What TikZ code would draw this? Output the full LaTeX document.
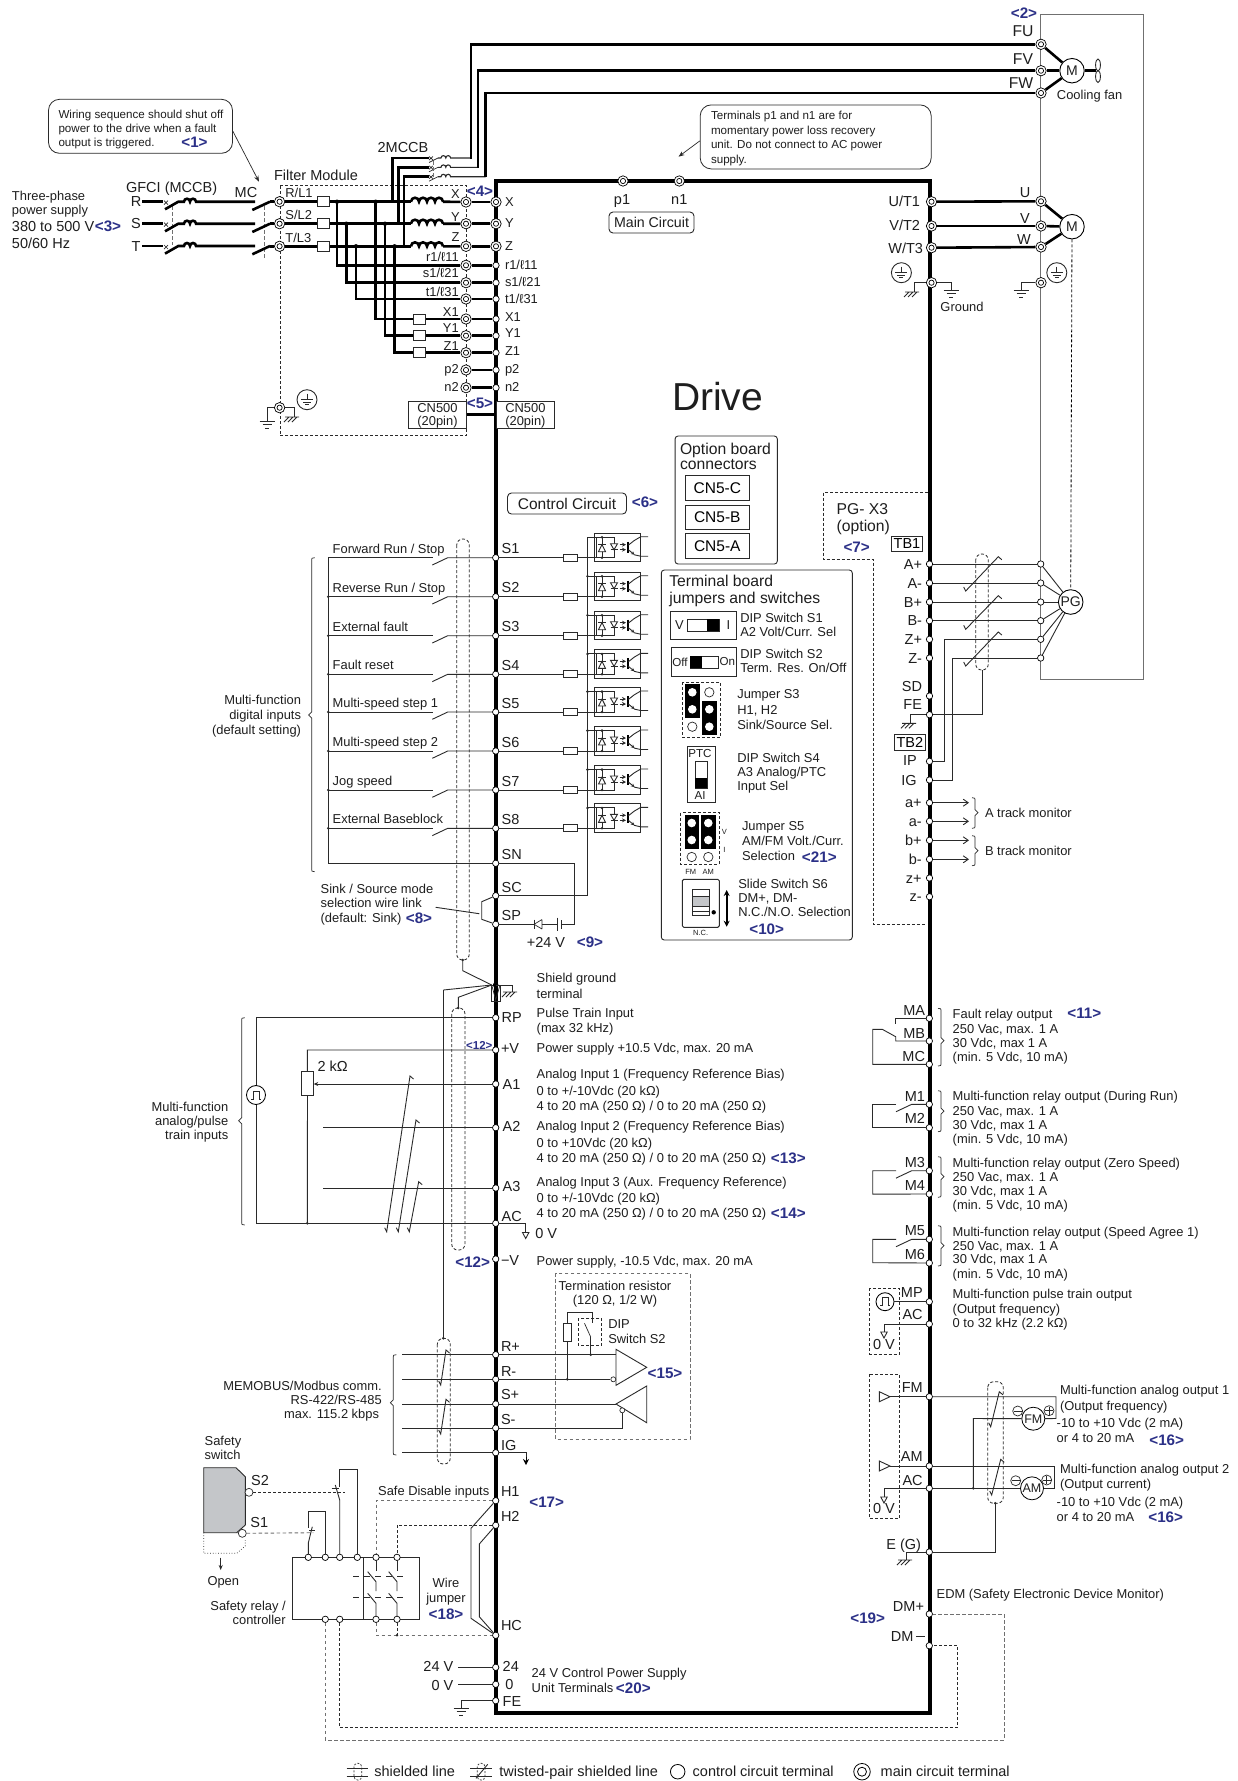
\documentclass[tikz,border=0pt]{standalone}
\usepackage{fontspec}
\setmainfont{Liberation Sans}
\usetikzlibrary{arrows.meta,calc}
\definecolor{ink}{HTML}{1E1E1E}
\definecolor{wire}{HTML}{2A2A2A}
\definecolor{frm}{HTML}{707070}
\definecolor{refblue}{HTML}{2B3087}
\definecolor{swgray}{HTML}{C4C6C9}
\newcounter{lc}
\newcommand{\putt}[5]{\stepcounter{lc}\node[#1,anchor=#2] (lbl\arabic{lc}) at (#3,#4) {#5};}
\newcommand{\sL}[3]{\putt{small}{base west}{#1}{#2}{#3}}
\newcommand{\sR}[3]{\putt{small}{base east}{#1}{#2}{#3}}
\newcommand{\sC}[3]{\putt{small}{base}{#1}{#2}{#3}}
\newcommand{\bL}[3]{\putt{lab}{base west}{#1}{#2}{#3}}
\newcommand{\bR}[3]{\putt{lab}{base east}{#1}{#2}{#3}}
\newcommand{\bC}[3]{\putt{lab}{base}{#1}{#2}{#3}}
\newcommand{\nL}[3]{\putt{notetxt}{base west}{#1}{#2}{#3}}
\newcommand{\hL}[3]{\putt{head}{base west}{#1}{#2}{#3}}
\newcommand{\hC}[3]{\putt{head}{base}{#1}{#2}{#3}}
\newcommand{\rf}[3]{\putt{blue}{base}{#1}{#2}{#3}}
\newcommand{\tinyt}[3]{\putt{inner sep=0,text=ink,font=\fontsize{7.5}{8}\selectfont,yshift=-2.7pt}{base}{#1}{#2}{#3}}
\newcommand{\jdot}[2]{\fill[wire] (#1,#2) circle (1.4);}
\newcommand{\earthg}[2]{\draw[ln] (#1-7.5,#2)--(#1+7.5,#2) (#1-4.5,#2+3.5)--(#1+4.5,#2+3.5) (#1-2,#2+7)--(#1+2,#2+7);}
\newcommand{\chassis}[2]{\draw[ln] (#1-5,#2)--(#1+9,#2) (#1-1,#2)--(#1-6,#2+5) (#1+3,#2)--(#1-2,#2+5) (#1+7,#2)--(#1+2,#2+5);}
\newcommand{\gcirc}[2]{\draw[ln] (#1,#2) circle (10); \draw[ln] (#1,#2-6)--(#1,#2) (#1-6,#2)--(#1+6,#2) (#1-4,#2+2.5)--(#1+4,#2+2.5) (#1-2,#2+5)--(#1+2,#2+5);}
\newcommand{\twist}[4]{\draw[ln] (#1-2,#2-4)--(#1,#2)--(#3,#4)--(#3+3.5,#4+3);}
\newcommand{\capsule}[4]{\draw[dsh,rounded corners=6pt] (#1,#2) rectangle (#3,#4);}
\newcommand{\lbr}[4]{\draw[lnt] (#1+3,#2) .. controls (#1,#2) and (#1,#2) .. (#1,#2+4) -- (#1,#4-3) -- (#1-3,#4) -- (#1,#4+3) -- (#1,#3-4) .. controls (#1,#3) and (#1,#3) .. (#1+3,#3);}
\newcommand{\rbr}[4]{\draw[lnt] (#1-3,#2) .. controls (#1,#2) and (#1,#2) .. (#1,#2+4) -- (#1,#4-3) -- (#1+3,#4) -- (#1,#4+3) -- (#1,#3-4) .. controls (#1,#3) and (#1,#3) .. (#1-3,#3);}
\newcommand{\opencone}[2]{\draw[ln,fill=white] (#1-3.2,#2)--(#1+3.2,#2)--(#1,#2+6)--cycle;}
\newcommand{\opto}[1]{\begin{scope}[shift={(0,#1)}]
 \draw[ln] (594,-24.4) rectangle (640.7,4);
 \draw[ln] (596.7,-20.4) rectangle (614,0);
 \draw[ln] (602,-20.4)--(602,0);
 \draw[ln,fill=white] (598.5,-6)--(605.5,-6)--(602,-13)--cycle;
 \draw[ln] (598,-13)--(606,-13);
 \jdot{602}{-20.4}\jdot{602}{0}
 \draw[ln,fill=white] (610.5,-14)--(617.5,-14)--(614,-8)--cycle;
 \draw[ln] (610.5,-8)--(617.5,-8);
 \draw[ln,-{Stealth[length=4pt,width=4pt]}] (619.5,-13)--(626,-13);
 \draw[ln,-{Stealth[length=4pt,width=4pt]}] (619.5,-8)--(626,-8);
 \draw[line width=1.7pt,black] (628.3,-16)--(628.3,-5);
 \draw[ln] (628.3,-12.5)--(634,-17)--(640.7,-21)--(648,-21);
 \draw[ln,-{Stealth[length=3.5pt,width=3.5pt]}] (628.3,-8)--(634.5,-3);
 \draw[ln] (634,-3)--(640.7,-1.5)--(648,-1.5);
 \end{scope}}
\newcommand{\pulse}[2]{\draw[ln] (#1-5,#2+4)--(#1-3,#2+4)--(#1-3,#2-4)--(#1+3,#2-4)--(#1+3,#2+4)--(#1+5,#2+4);}
\newcommand{\mccb}[1]{\draw[pw] (142,#1)--(163.3,#1);
 \draw[lnt] (164,#1-1)--(168,#1+3) (164,#1+3)--(168,#1-1);
 \draw[pw] (165,#1+7.6)--(178.3,#1)--(184,#1) arc[start angle=180,end angle=360,radius=3] arc[start angle=180,end angle=360,radius=3] --(255,#1);
 \draw[pw] (252.3,#1+8.3)--(270,#1);}
\newcommand{\smallcb}[2]{\draw[lnt] (429,#1+4.5)--(438,#1) (429,#1-1.5)--(433,#1+2) (429,#1+2)--(433,#1-1.5);
 \draw[line width=1.1pt,wire] (438,#1)--(441,#1) arc[start angle=180,end angle=360,radius=2.4] arc[start angle=180,end angle=360,radius=2.4]--(#2,#1);}
\newcommand{\coilrow}[1]{\draw[pw] (411,#1) arc[start angle=180,end angle=360,radius=4] arc[start angle=180,end angle=360,radius=4] arc[start angle=180,end angle=360,radius=4] arc[start angle=180,end angle=360,radius=4];}
\tikzset{
 x=1pt,y=-1pt,
 small/.style={inner sep=0,outer sep=0,text=ink,font=\fontsize{12.9}{14}\selectfont,yshift=-4.6pt},
 lab/.style={inner sep=0,outer sep=0,text=ink,font=\fontsize{14.5}{15}\selectfont,yshift=-5.2pt},
 head/.style={inner sep=0,outer sep=0,text=ink,font=\fontsize{15.7}{16}\selectfont,yshift=-5.6pt},
 notetxt/.style={inner sep=0,outer sep=0,text=ink,font=\fontsize{11.6}{13}\selectfont,yshift=-4.2pt},
 blue/.style={inner sep=0,outer sep=0,text=refblue,font=\fontsize{15.2}{16}\selectfont\bfseries,yshift=-5.4pt},
 ln/.style={line width=.9pt,draw=wire},
 lnt/.style={line width=.7pt,draw=wire},
 pw/.style={line width=2.6pt,draw=black},
 bus/.style={line width=3.6pt,draw=black,line join=miter},
 frame/.style={line width=1pt,draw=frm},
 dsh/.style={line width=.8pt,draw=wire,dash pattern=on 3pt off 2pt},
 gdsh/.style={line width=.9pt,draw=frm,dash pattern=on 3.5pt off 2.5pt},
 ct/.style={circle,draw=black,fill=white,inner sep=0,minimum size=6.4pt,line width=.7pt},
 mtm/.style={circle,draw=black,fill=white,inner sep=0,minimum size=10.4pt,line width=.7pt,
   path picture={\draw[line width=.7pt] (path picture bounding box.center) circle (2.6pt);}},
 box/.style={draw=wire,line width=.9pt,inner sep=0,fill=white},
 rbox/.style={draw=wire,line width=.9pt,inner sep=0,rounded corners=4pt,fill=white,text=ink},
 note/.style={draw=wire,line width=.8pt,inner sep=0,rounded corners=11pt},
 fus/.style={draw=wire,line width=.7pt,fill=white,inner sep=0,minimum width=12pt,minimum height=10pt},
 mot/.style={circle,draw=black,line width=.9pt,fill=white,inner sep=0,minimum size=24.5pt,text=ink,font=\fontsize{14}{15}\selectfont},
}
\begin{document}
\begin{tikzpicture}
\useasboundingbox (0,0) rectangle (1238,1781);
\fill[white] (0,0) rectangle (1238,1781);
%% frames and buses
\draw[frame] (1040.7,14.7) rectangle (1143.5,679);
\draw[bus] (496,181) -- (930,181) -- (930,1712.7) -- (496,1712.7) -- cycle;
%% ------- top left
\node[note,minimum width=184pt,minimum height=54pt] (note1) at (140.5,126.3) {};
\nL{58.5}{114}{Wiring sequence should shut off}
\nL{58.5}{128.3}{power to the drive when a fault}
\nL{58.5}{142.3}{output is triggered.}
\rf{194.5}{141.7}{<1>}
\coordinate (mcpt) at (259,181.7);
\draw[lnt,-{Stealth[length=6pt,width=4.5pt]}] ([yshift=-5pt]note1.east) -- (mcpt);
\sL{12}{195.7}{Three-phase}
\sL{12}{210}{power supply}
\bL{12}{226}{380 to 500 V}
\bL{12}{243.3}{50/60 Hz}
\rf{108}{226.5}{<3>}
\bC{171.6}{187}{GFCI (MCCB)}
\bC{246}{192}{MC}
\bC{316}{175}{Filter Module}
\bC{403}{147}{2MCCB}
\bC{136}{201}{R}\bC{136}{223}{S}\bC{136}{246}{T}
\draw[dsh] (280,185.7)--(466.6,185.7)--(466.6,435.7)--(280,435.7)--cycle;
\draw[gdsh] (172.3,206)--(172.3,245);
\draw[gdsh] (264,206)--(264,258);
\mccb{201.7}\mccb{223.7}\mccb{246}
%% module terminals
\node[mtm] (fR) at (279.6,201.7) {};
\node[mtm] (fS) at (279.6,223.7) {};
\node[mtm] (fT) at (279.6,246.3) {};
\node[mtm] (mX) at (466,202) {};
\node[mtm] (mY) at (466,223.7) {};
\node[mtm] (mZ) at (466,246.3) {};
\node[mtm] (mrr) at (466,265.3) {};
\node[mtm] (mss) at (466,282.7) {};
\node[mtm] (mtt) at (466,299) {};
\node[mtm] (mXa) at (466,319) {};
\node[mtm] (mYa) at (466,335.7) {};
\node[mtm] (mZa) at (466,352.7) {};
\node[mtm] (mp) at (466,370) {};
\node[mtm] (mn) at (466,387.7) {};
\node[mtm] (dX) at (496,202) {};
\node[mtm] (dY) at (496,223.7) {};
\node[mtm] (dZ) at (496,246.3) {};
\node[ct] (drr) at (496,265.3) {};
\node[ct] (dss) at (496,282.7) {};
\node[ct] (dtt) at (496,299) {};
\node[ct] (dXa) at (496,319) {};
\node[ct] (dYa) at (496,335.7) {};
\node[ct] (dZa) at (496,352.7) {};
\node[ct] (dp) at (496,370) {};
\node[ct] (dn) at (496,387.7) {};
\draw[pw] (270,201.7)--(fR) (270,223.7)--(fS) (270,246.3)--(fT);
\draw[pw] (fR)--(411,201.7) (fS)--(411,223.7) (fT)--(411,246.3);
\coilrow{201.7}\coilrow{223.7}\coilrow{246.3}
\draw[pw] (443,201.7)--(mX) (443,223.7)--(mY) (443,246.3)--(mZ);
\draw[pw] (mX)--(dX); \draw[pw] (mY)--(dY); \draw[pw] (mZ)--(dZ);
\draw[pw] (337,201.7)--(337,265.3)--(mrr); \draw[pw] (mrr)--(drr);
\draw[pw] (346.4,223.7)--(346.4,282.7)--(mss); \draw[pw] (mss)--(dss);
\draw[pw] (356,246.3)--(356,299)--(mtt); \draw[pw] (mtt)--(dtt);
\draw[pw] (375.6,201.7)--(375.6,319)--(mXa); \draw[pw] (mXa)--(dXa);
\draw[pw] (385,223.7)--(385,335.7)--(mYa); \draw[pw] (mYa)--(dYa);
\draw[pw] (394.6,246.3)--(394.6,352.7)--(mZa); \draw[pw] (mZa)--(dZa);
\draw[pw] (mp)--(dp); \draw[pw] (mn)--(dn);
\foreach \a/\b in {337/201.7,346.4/223.7,356/246.3,375.6/201.7,385/223.7,394.6/246.3}{\fill (\a,\b) circle (2.2);}
\foreach \y [count=\i] in {201.7,223.7,246.3}{\node[fus] (fuse\i) at (323.5,\y) {};}
\foreach \y [count=\i] in {319,335.7,352.7}{\node[fus] (res\i) at (419,\y) {};}
%% labels filter
\sL{285.4}{193.3}{R/L1}\sL{285.4}{215.3}{S/L2}\sL{285.4}{238.3}{T/L3}
\sC{455.5}{194}{X}\sC{455.5}{216.7}{Y}\sC{455.5}{236.7}{Z}
\sR{458.7}{256.7}{r1/ℓ11}\sR{458.7}{273}{s1/ℓ21}\sR{458.7}{291.7}{t1/ℓ31}
\sR{458.7}{311.7}{X1}\sR{458.7}{328.3}{Y1}\sR{458.7}{345.7}{Z1}
\sR{458.7}{369}{p2}\sR{458.7}{386.7}{n2}
\sL{505}{201.7}{X}\sL{505}{223}{Y}\sL{505}{245.7}{Z}
\sL{505}{265}{r1/ℓ11}\sL{505}{281.7}{s1/ℓ21}\sL{505}{299.3}{t1/ℓ31}
\sL{505}{316.7}{X1}\sL{505}{333}{Y1}\sL{505}{350.7}{Z1}
\sL{505}{369}{p2}\sL{505}{386.7}{n2}
\rf{480}{191}{<4>}\rf{480}{403}{<5>}
\node[box,minimum width=58pt,minimum height=26.7pt] (cnL) at (437.5,414.6) {};
\node[box,minimum width=58.8pt,minimum height=26.7pt] (cnR) at (525.4,414.6) {};
\draw[pw] (cnL.east)--(cnR.west);
\sC{437.5}{407.5}{CN500}\sC{437.5}{421}{(20pin)}
\sC{525.4}{407.5}{CN500}\sC{525.4}{421}{(20pin)}
%% filter ground
\node[mtm] (fG) at (279.6,407.7) {};
\draw[ln] (fG)--(267,407.7)--(267,421);
\earthg{267}{421}
\draw[ln] (fG)--(294.6,407.7)--(294.6,417);
\chassis{290}{417}
\gcirc{307}{399.7}
%% 2MCCB and top wires
\node[mtm] (tFU) at (1041,44.3) {};
\node[mtm] (tFV) at (1041,70.7) {};
\node[mtm] (tFW) at (1041,93) {};
\draw[pw] (392.6,201.7)--(392.6,158)--(429,158);
\draw[pw] (398.6,223.7)--(398.6,167.3)--(429,167.3);
\draw[pw] (404,246.3)--(404,176.7)--(429,176.7);
\smallcb{158}{471}\smallcb{167.3}{478}\smallcb{176.7}{485.5}
\draw[pw] (tFU)--(471,44.3)--(471,158.5);
\draw[pw] (tFV)--(478,70.7)--(478,167.8);
\draw[pw] (tFW)--(485.5,93)--(485.5,177.2);
\draw[gdsh] (433,161)--(433,178);
%% fan
\node[mot] (mfan) at (1072,70.7) {M};
\draw[pw] (tFU)--(mfan); \draw[pw] (tFV)--(mfan); \draw[pw] (tFW)--(mfan);
\draw[pw] (mfan)--(1096,70.7);
\draw[ln] (1098,65) ellipse (2.4 and 6); \draw[ln] (1098,76.5) ellipse (2.4 and 6);
\hC{1023}{31}{FU}\hC{1023}{59}{FV}\hC{1021}{83.3}{FW}
\rf{1024}{12.7}{<2>}
\sC{1089.6}{94.7}{Cooling fan}
%% note 2
\node[note,minimum width=231pt,minimum height=64pt] (note2) at (815.7,136.9) {};
\nL{711}{115}{Terminals p1 and n1 are for}
\nL{711}{130}{momentary power loss recovery}
\nL{711}{144}{unit. Do not connect to AC power}
\nL{711}{159}{supply.}
\coordinate (p1pt) at (678.5,156.7);
\draw[lnt,-{Stealth[length=6pt,width=4.5pt]}] ([yshift=-4pt]note2.west) -- (p1pt);
\node[mtm] (p1) at (623,181) {};
\node[mtm] (n1) at (679.3,181) {};
\bC{622}{199.5}{p1}\bC{679.3}{199.5}{n1}
\node[rbox,minimum width=85pt,minimum height=21pt,font=\fontsize{14.2}{15}\selectfont] (mainc) at (651.5,222.5) {Main Circuit};
%% motor
\node[mtm] (tUT) at (931.5,201.7) {};
\node[mtm] (tVT) at (931.5,226) {};
\node[mtm] (tWT) at (931.5,247.7) {};
\node[mtm] (tU) at (1041,201.3) {};
\node[mtm] (tV) at (1041,226) {};
\node[mtm] (tW) at (1041,247) {};
\node[mot] (mmain) at (1072,226.7) {M};
\draw[pw] (tUT)--(tU); \draw[pw] (tVT)--(tV); \draw[pw] (tWT)--(tW);
\draw[pw] (tU)--(mmain); \draw[pw] (tV)--(mmain); \draw[pw] (tW)--(mmain);
\bR{920}{201.7}{U/T1}\bR{920}{225}{V/T2}\bR{923}{248}{W/T3}
\bC{1025}{192.7}{U}\bC{1025}{218}{V}\bC{1024}{239.3}{W}
\node[mtm] (gD) at (931.5,282.7) {};
\draw[ln] (gD)--(914.5,282.7)--(914.5,292);
\chassis{910}{292}
\draw[ln] (gD)--(951,282.7)--(951,290);
\earthg{951}{290}
\gcirc{901.4}{272.7}
\sC{962}{306.7}{Ground}
\node[mtm] (gM) at (1041,282.7) {};
\draw[ln] (gM)--(1021,282.7)--(1021,290);
\earthg{1021}{290}
\gcirc{1056.8}{272.7}
%% Drive
\putt{inner sep=0,text=ink,font=\fontsize{39}{42}\selectfont}{center}{717.5}{397}{Drive}
%% option board
\node[rbox,fill=none,minimum width=102.3pt,minimum height=128pt,rounded corners=3pt] (optb) at (726.2,500) {};
\hL{680}{449.3}{Option board}\hL{680}{464.3}{connectors}
\node[box,minimum width=63.3pt,minimum height=24.3pt,font=\fontsize{15.5}{16}\selectfont] (cnc) at (717.3,487.8) {CN5-C};
\node[box,minimum width=63.3pt,minimum height=24.3pt,font=\fontsize{15.5}{16}\selectfont] (cnb) at (717.3,517.2) {CN5-B};
\node[box,minimum width=63.3pt,minimum height=24.3pt,font=\fontsize{15.5}{16}\selectfont] (cna) at (717.3,546) {CN5-A};
\node[rbox,minimum width=119pt,minimum height=21pt,font=\fontsize{15.5}{16}\selectfont] (ctrl) at (567,503.5) {Control Circuit};
\rf{645}{502}{<6>}
%% terminal board
\node[rbox,fill=none,minimum width=191pt,minimum height=370pt,rounded corners=3pt] (tboard) at (756.8,755) {};
\hL{669.3}{581.3}{Terminal board}\hL{669.3}{597.7}{jumpers and switches}
% S1
\node[box,minimum width=65.6pt,minimum height=28pt] (swa) at (703.5,625.3) {};
\draw[lnt] (687.7,619.3) rectangle (719.3,631); \fill[black] (707.3,619.3) rectangle (719.3,631);
\sC{679.3}{624.7}{V}\sC{728.3}{624.7}{I}
\sL{740.3}{618.3}{DIP Switch S1}\sL{740.3}{632.3}{A2 Volt/Curr. Sel}
% S2
\node[box,minimum width=65.4pt,minimum height=28.3pt] (swb) at (704,661.8) {};
\draw[lnt] (690,656.3) rectangle (718.7,668.3); \fill[black] (690,656.3) rectangle (701.7,668.3);
\putt{notetxt}{base}{680}{662}{Off}\putt{notetxt}{base}{727.3}{661.3}{On}
\sL{740.3}{654.3}{DIP Switch S2}\sL{740.3}{668.3}{Term. Res. On/Off}
% S3
\draw[dsh] (682.3,682.3) rectangle (720.7,737.3);
\fill[black] (685,684.3) rectangle (700.3,717.7);
\fill[black] (702.3,701) rectangle (717.3,735);
\foreach \a/\b in {692.3/692.3,692.3/709.3,709.3/709.3,709.3/726.7}{\fill[white] (\a,\b) circle (4.3);}
\foreach \a/\b in {709.3/692.3,692.3/726.7}{\draw[lnt] (\a,\b) circle (4.7);}
\sL{737.3}{694.3}{Jumper S3}\sL{737.3}{710}{H1, H2}\sL{737.3}{725.3}{Sink/Source Sel.}
% S4
\node[box,minimum width=28.4pt,minimum height=56pt] (swd) at (701.5,774.7) {};
\draw[lnt] (695.3,761) rectangle (707.3,788); \fill[black] (695.3,778) rectangle (707.3,788);
\putt{notetxt}{base}{700}{753.3}{PTC}\putt{notetxt}{base}{700}{795.7}{AI}
\sL{737.3}{757.7}{DIP Switch S4}\sL{737.3}{771.7}{A3 Analog/PTC}\sL{737.3}{785.7}{Input Sel}
% S5
\draw[dsh] (680.7,812.7) rectangle (719,864.3);
\fill[black] (684.7,815) rectangle (699,848.7);
\fill[black] (701.3,815) rectangle (715.7,848.7);
\foreach \a/\b in {691.7/823,691.7/840,708.3/823,708.3/840}{\fill[white] (\a,\b) circle (4.3);}
\foreach \a/\b in {691.7/857,708.3/857}{\draw[lnt] (\a,\b) circle (4.7);}
\tinyt{724.3}{831.3}{V}\tinyt{724.3}{850}{I}\tinyt{690.7}{871.3}{FM}\tinyt{708.3}{871.3}{AM}
\sL{742}{825.7}{Jumper S5}\sL{742}{840.7}{AM/FM Volt./Curr.}\sL{742}{855.7}{Selection}
\rf{819.3}{856.7}{<21>}
% S6
\node[box,minimum width=37pt,minimum height=48pt,rounded corners=1.5pt] (swf) at (700.8,903.3) {};
\draw[ln] (692.7,889.3) rectangle (709.3,915.7);
\fill[swgray] (693.2,896) rectangle (708.8,906);
\draw[lnt] (692.7,896)--(709.3,896) (692.7,906)--(709.3,906) (692.7,911)--(709.3,911);
\fill[black] (713.7,912.3) circle (2.2);
\draw[line width=1.6pt,{Stealth[length=6pt,width=6pt]}-{Stealth[length=6pt,width=6pt]}] (726.7,890)--(726.7,926.7);
\tinyt{700.7}{932.3}{N.C.}
\sL{738.3}{884.3}{Slide Switch S6}\sL{738.3}{898.3}{DM+, DM-}\sL{738.3}{912.3}{N.C./N.O. Selection}
\rf{766.7}{929}{<10>}
%% ------- digital inputs
\capsule{456.7}{539}{469.3}{960}
\draw[ln] (328.3,557.7)--(328.3,863.3);
\lbr{311.7}{557.7}{871.7}{715}
\sR{301}{700.3}{Multi-function}\sR{301}{715}{digital inputs}\sR{301}{729.7}{(default setting)}
\node[ct] (tSC) at (495.7,895.7) {};
\node[ct] (tSN) at (495.7,863.3) {};
\node[ct] (tSP) at (495.7,924.3) {};
\foreach \n/\y/\t in {1/557.7/{Forward Run / Stop},2/596.7/{Reverse Run / Stop},3/635.7/{External fault},4/674.3/{Fault reset},5/712/{Multi-speed step 1},6/751/{Multi-speed step 2},7/790/{Jog speed},8/828.3/{External Baseblock}}{
  \node[ct] (tS\n) at (495.7,\y) {};
  \draw[ln] (328.3,\y)--(432.7,\y);
  \draw[ln] (432.3,\y+7.3)--(447.7,\y)--(tS\n);
  \draw[ln] (tS\n)--(563.7,\y);
  \draw[ln] (577.7,\y)--(602,\y);
  \node[draw=wire,line width=.7pt,fill=white,inner sep=0,minimum width=14pt,minimum height=7pt] (rS\n) at (570.7,\y) {};
  \opto{\y}
  \draw[ln] (587.5,\y-20.4)--(596.7,\y-20.4);
  \bL{501.7}{\y-9}{S\n}
  \sL{332.7}{\y-9.3}{\t}
}
\foreach \y in {596.7,635.7,674.3,712,751,790,828.3}{\jdot{328.3}{\y}}
\foreach \y in {576.3,615.3,653.9,691.6,730.6,769.6,807.9}{\jdot{587.5}{\y}}
\draw[ln] (587.5,537.3)--(587.5,895.7)--(tSC);
\draw[ln] (328.3,863.3)--(tSN);
\draw[ln] (tSN)--(574,863.3)--(574,924.3)--(561,924.3);
\draw[ln] (557,924.3)--(542,924.3);
\draw[lnt] (557,917.5)--(557,931) (561,920)--(561,928.5);
\draw[lnt] (542,919.5)--(542,929) (542,919.5)--(534,924.3)--(542,929);
\draw[lnt] (534,919.5)--(534,929);
\draw[ln] (534,924.3)--(tSP);
\bL{501.7}{854.5}{SN}\bL{501.7}{887.5}{SC}\bL{501.7}{915.5}{SP}
\draw[ln] (tSC)--(481.7,901.7)--(481.7,919.3)--(tSP);
\draw[ln] (435.7,907.3)--(479.3,913.7);
\sL{320.7}{889.3}{Sink / Source mode}\sL{320.7}{903.3}{selection wire link}\sL{320.7}{917.7}{(default: Sink)}
\rf{419}{918}{<8>}
\bC{546}{942.7}{+24 V}\rf{590}{942.3}{<9>}
%% ------- shield ground
\draw[ln] (462.7,960)--(462.7,970.7)--(491.7,985);
\jdot{462.7}{960}
\draw[lnt] (491.7,985) rectangle (500,1001.7);
\draw[lnt] (492,986)--(495.7,1000)--(499.7,986);
\fill[black] (495.7,985) circle (2.8);
\draw[ln] (495.7,985)--(512.7,985)--(512.7,991.7);
\chassis{508}{992}
\draw[ln] (443.3,990)--(491.7,985);
\draw[ln] (458.3,1008)--(458.3,997.3)--(491.7,985);
\draw[ln] (443.3,990)--(443.3,1338.3);
\jdot{443.3}{1338.3}\jdot{458.3}{1008}
\capsule{451.7}{1008}{465}{1250}
\sL{536.7}{978.3}{Shield ground}\sL{536.7}{994.3}{terminal}
\sL{536.7}{1013.3}{Pulse Train Input}\sL{536.7}{1028.3}{(max 32 kHz)}
\sL{536.7}{1047.7}{Power supply +10.5 Vdc, max. 20 mA}
\sL{536.7}{1074.3}{Analog Input 1 (Frequency Reference Bias)}
\sL{536.7}{1090.7}{0 to +/-10Vdc (20 kΩ)}
\sL{536.7}{1106}{4 to 20 mA (250 Ω) / 0 to 20 mA (250 Ω)}
\sL{536.7}{1126}{Analog Input 2 (Frequency Reference Bias)}
\sL{536.7}{1142.7}{0 to +10Vdc (20 kΩ)}
\sL{536.7}{1157.7}{4 to 20 mA (250 Ω) / 0 to 20 mA (250 Ω)}
\rf{788.3}{1158.3}{<13>}
\sL{536.7}{1182.3}{Analog Input 3 (Aux. Frequency Reference)}
\sL{536.7}{1197.7}{0 to +/-10Vdc (20 kΩ)}
\sL{536.7}{1213.3}{4 to 20 mA (250 Ω) / 0 to 20 mA (250 Ω)}
\rf{788.3}{1213.3}{<14>}
\bL{535.3}{1233.3}{0 V}
\sL{536.7}{1260.7}{Power supply, -10.5 Vdc, max. 20 mA}
%% ------- analog inputs
\node[ct] (tRP) at (495.7,1017.7) {};
\node[ct] (tPV) at (495.7,1050) {};
\node[ct] (tA1) at (495.7,1084) {};
\node[ct] (tA2) at (495.7,1127.7) {};
\node[ct] (tA3) at (495.7,1188) {};
\node[ct] (tAC) at (495.7,1223.3) {};
\node[ct] (tMV) at (495.7,1259) {};
\node[circle,draw=black,line width=.85pt,fill=white,minimum size=19pt,inner sep=0] (pls) at (256,1095) {};
\draw[ln] (tRP)--(256,1017.7)--(pls);
\draw[ln] (pls)--(256,1223.3)--(tAC);
\pulse{256}{1095}
\lbr{241.7}{1017.7}{1225}{1120.7}
\sR{228.3}{1106.7}{Multi-function}\sR{228.3}{1120.7}{analog/pulse}\sR{228.3}{1134.7}{train inputs}
\node[draw=wire,line width=.8pt,fill=white,inner sep=0,minimum width=11.6pt,minimum height=23.3pt] (pot) at (307.5,1083.3) {};
\draw[ln] (tPV)--(307.3,1050)--(pot);
\draw[ln] (pot)--(307.3,1223.3);
\jdot{307.3}{1223.3}
\draw[ln,-{Stealth[length=4.5pt,width=4pt]}] (tA1)--(pot.east |- tA1);
\coordinate (a2end) at (323.3,1127.7);\coordinate (a3end) at (323.3,1188);
\draw[ln] (tA2)--(a2end); \draw[ln] (tA3)--(a3end);
\bC{332.7}{1066}{2 kΩ}
\twist{386.7}{1231.7}{410}{1076}
\twist{398.3}{1231.7}{416}{1120}
\twist{409.3}{1231.7}{418.7}{1181.7}
\putt{blue,font=\fontsize{11.5}{12}\selectfont\bfseries,yshift=-4pt}{base}{479.3}{1040}{<12>}
\rf{472.7}{1261.7}{<12>}
\bL{501.7}{1017.7}{RP}\bL{501}{1048}{+V}\bL{502.7}{1084}{A1}\bL{502.7}{1126.7}{A2}\bL{502.7}{1186.7}{A3}\bL{501.7}{1216}{AC}\bL{501}{1260}{−V}
\draw[ln] (tAC)--(525.7,1223.3)--(525.7,1233);
\opencone{525.7}{1232.5}
%% ------- comms
\foreach \n/\y in {Rp/1354.7,Rm/1379.3,Sp/1404,Sm/1428,IG/1452.7}{\node[ct] (t\n) at (495.7,\y) {};}
\capsule{437.3}{1338.3}{450.3}{1464}
\foreach \n/\y in {Rp/1354.7,Rm/1379.3,Sp/1404,Sm/1428,IG/1452.7}{\draw[ln] (t\n)--(402,\y);}
\twist{440.7}{1385}{446}{1350}
\twist{440.7}{1434}{446}{1399.3}
\lbr{393.3}{1354.7}{1455}{1402.7}
\sR{381.7}{1385.7}{MEMOBUS/Modbus comm.}\sR{381.7}{1399.7}{RS-422/RS-485}\sR{379}{1414.3}{max. 115.2 kbps}
\bL{501}{1346.7}{R+}\bL{501}{1371.7}{R-}\bL{501}{1394.3}{S+}\bL{501}{1419.3}{S-}\bL{501}{1445}{IG}
\draw[gdsh] (555.7,1273.3) rectangle (690,1439.3);
\sC{615}{1285.7}{Termination resistor}\sC{615}{1300}{(120 Ω, 1/2 W)}
\sL{608.3}{1324}{DIP}\sL{608.3}{1338.7}{Switch S2}
\rf{665}{1373.3}{<15>}
\node[draw=wire,line width=.8pt,fill=white,inner sep=0,minimum width=8.7pt,minimum height=18.4pt] (rtrm) at (567.3,1332.5) {};
\draw[ln] (rtrm)--(567.3,1312.3)--(592.3,1312.3)--(592.3,1323.3);
\draw[lnt] (584.5,1323.3)--(590.7,1337);
\draw[ln] (590.7,1337)--(590.7,1355);
\draw[dsh] (578,1318.3) rectangle (601.7,1345.3);
\draw[ln] (rtrm)--(567.3,1379.3);
\jdot{567.3}{1379.3}\jdot{590.7}{1354.7}
\draw[ln] (tRp)--(616,1354.7);
\draw[ln] (616,1349.3)--(616,1385.3)--(646.7,1367.3)--cycle;
\node[circle,draw=wire,line width=.7pt,fill=white,minimum size=5pt,inner sep=0] (ccR) at (613.3,1379.3) {};
\draw[ln] (tRm)--(ccR);
\draw[ln] (tSp)--(616,1404);
\draw[ln] (616,1404)--(646.7,1386)--(646.7,1422.7)--cycle;
\node[circle,draw=wire,line width=.7pt,fill=white,minimum size=5pt,inner sep=0] (ccS) at (622.3,1410.3) {};
\draw[ln] (tSm)--(622.3,1428)--(ccS);
\draw[ln] (tIG)--(526,1452.7)--(526,1458);
\draw[-{Stealth[length=6pt,width=6pt]},black,line width=1pt] (526,1457)--(526,1465);
%% ------- safety
\sL{204.7}{1440.7}{Safety}\sL{204.7}{1454.7}{switch}
\draw[ln,fill=swgray] (203.7,1467.7)--(236,1467.7)--(245.3,1476.7)--(245.3,1525)--(236.7,1532.7)--(203.7,1532.7)--cycle;
\draw[lnt,dotted] (203.7,1532.7)--(203.7,1553.3)--(236.7,1553.3)--(245.3,1546)--(245.3,1538.3);
\node[circle,draw=wire,line width=.7pt,fill=white,minimum size=8pt,inner sep=0] (swS2) at (249,1492.3) {};
\node[circle,draw=wire,line width=.7pt,fill=white,minimum size=8pt,inner sep=0] (swS1) at (242.3,1533.3) {};
\bC{260}{1480.7}{S2}\bC{259.3}{1522.7}{S1}
\draw[ln,-{Stealth[length=5pt,width=4pt]}] (220.7,1557.5)--(220.7,1570);
\sC{223.3}{1580.7}{Open}
\sR{285.7}{1605.7}{Safety relay /}\sR{285.7}{1619.7}{controller}
\draw[ln] (292.3,1557.3) rectangle (419.3,1619.3);
\draw[ln] (363,1557.3)--(363,1619.3);
\foreach \n/\x in {a/308.3,b/325.3,c/339.7,d/357.3,e/376,f/397}{\node[ct] (rt\n) at (\x,1557.3) {};}
\foreach \n/\x in {b/325.3,c/339.7,e/376,f/397}{\node[ct] (rb\n) at (\x,1619.3) {};}
\draw[dsh] (swS2)--(345,1492.3);
\draw[ln] (rtc)--(339.7,1500)--(335.3,1485);
\draw[ln] (339.7,1487)--(339.7,1469.3)--(357.3,1469.3)--(rtd);
\draw[lnt] (331.5,1488)--(339,1488);
\draw[gdsh] (swS1)--(313.3,1532.7);
\draw[ln] (rta)--(308.3,1543)--(312.3,1526.7);
\draw[ln] (308.3,1527.7)--(308.3,1511.7)--(325.3,1511.7)--(rtb);
\draw[lnt] (309,1530)--(315,1530);
\foreach \x in {376,397}{
 \draw[ln] (\x,1571)--(\x,1560.5);
 \draw[ln] (\x-8.3,1571.7)--(\x,1581.7)--(\x,1591);
 \draw[ln] (\x-8.3,1593.3)--(\x,1603.3)--(\x,1616);
}
\draw[lnt,dash pattern=on 6pt off 5pt] (353.3,1576)--(405,1576);
\draw[lnt,dash pattern=on 6pt off 5pt] (353.3,1597.3)--(405,1597.3);
\node[ct] (tH1) at (495.7,1500.7) {};
\node[ct] (tH2) at (495.7,1525.3) {};
\node[ct] (tHC) at (495.7,1635.3) {};
\draw[gdsh] (tH1)--(376,1500.7)--(rte);
\draw[dsh] (tH2)--(397,1525.3)--(rtf);
\draw[gdsh] (rbe)--(376,1635.3)--(tHC);
\draw[dsh] (rbf)--(397,1635.3);
\jdot{397}{1635.3}
\draw[ln] (tH1)--(471,1528.3)--(471,1618.3)--(tHC);
\draw[ln] (tH2)--(479.3,1544)--(479.3,1616.7)--(tHC);
\sR{489.3}{1490.7}{Safe Disable inputs}
\bL{501}{1491.7}{H1}\bL{501}{1516}{H2}\bL{501}{1625.7}{HC}
\rf{546.7}{1502.3}{<17>}
\sC{446}{1583.3}{Wire}\sC{446}{1597.7}{jumper}\rf{446}{1614.3}{<18>}
\node[ct] (t24) at (495.7,1667.3) {};
\node[ct] (t0) at (495.7,1684.3) {};
\node[ct] (tFE) at (495.7,1700.7) {};
\bR{453.3}{1666.7}{24 V}\bR{453.3}{1685}{0 V}
\draw[ln] (t24)--(458.3,1667.3); \draw[ln] (t0)--(458.3,1684.3);
\draw[ln] (tFE)--(461,1700.7)--(461,1708.3);
\earthg{461}{1708.3}
\bL{502.7}{1666}{24}\bC{509.3}{1684}{0}\bL{502.7}{1701.7}{FE}
\sL{531.7}{1672.7}{24 V Control Power Supply}\sL{531.7}{1687.7}{Unit Terminals}
\rf{633.3}{1688.3}{<20>}
%% bottom dashed
\node[ct] (tDP) at (929.3,1614) {};
\node[ct] (tDM) at (929.3,1645.7) {};
\draw[dsh] (rbc)--(339.7,1727.7)--(957.3,1727.7)--(957.3,1645.7)--(tDM);
\draw[gdsh] (rbb)--(325.3,1740)--(1004,1740)--(1004,1614)--(tDP);
\bR{924}{1606.7}{DM+}\bR{913.5}{1636.7}{DM}
\draw[lnt] (916,1636.7)--(925,1636.7);
\rf{867.7}{1618.3}{<19>}
\sL{936.7}{1594.3}{EDM (Safety Electronic Device Monitor)}
%% ------- legend
\draw[ln] (346.7,1768.3)--(368.3,1768.3) (346.7,1776.7)--(368.3,1776.7);
\draw[lnt,dash pattern=on 2pt off 1.5pt,rounded corners=3.5pt] (354,1763.3) rectangle (361.7,1780);
\bL{374.3}{1771.7}{shielded line}
\draw[ln] (470,1768.3)--(491.7,1768.3) (470,1776.7)--(491.7,1776.7);
\draw[lnt,dash pattern=on 2pt off 1.5pt,rounded corners=3.5pt] (477.3,1763.3) rectangle (485,1780);
\draw[ln] (476,1778.3)--(487.7,1764.3);
\bL{499.3}{1771.7}{twisted-pair shielded line}
\node[circle,draw=black,line width=.8pt,inner sep=0,minimum size=14.5pt] (legc) at (677.7,1771.7) {};
\bL{692.7}{1771.7}{control circuit terminal}
\node[circle,draw=black,line width=.8pt,inner sep=0,minimum size=16.5pt] (legm) at (862,1771.7) {};
\draw[line width=.8pt] (862,1771.7) circle (4.5);
\bL{880.7}{1771.7}{main circuit terminal}
%% ------- PG
\draw[dsh] (928,492.3)--(823.3,492.3)--(823.3,559.3)--(873.3,559.3)--(873.3,924)--(926.7,924);
\hL{836.7}{508.7}{PG- X3}\hL{836.7}{526}{(option)}
\rf{856.7}{546.7}{<7>}
\node[box,minimum width=31.4pt,minimum height=15.4pt,font=\fontsize{14.5}{16}\selectfont] (tb1) at (907,544) {TB1};
\node[box,minimum width=31pt,minimum height=16.3pt,font=\fontsize{14.5}{16}\selectfont] (tb2) at (909.8,742.2) {TB2};
\node[mot,minimum size=24.6pt] (pg) at (1070.7,602) {PG};
\draw[dash pattern=on 3pt off 2pt,line width=.8pt] (mmain)--(pg);
\foreach \n/\y/\t in {Ap/564/A+,Am/583/A-,Bp/602/B+,Bm/620.7/B-,Zp/639.3/Z+,Zm/658/Z-}{
 \node[ct] (p\n) at (929.5,\y) {};
 \node[ct] (g\n) at (1040.7,\y) {};
 \bR{922}{\y}{\t}
 \draw[ln] (g\n)--(pg);
}
\draw[ln] (pAp)--(gAp); \draw[ln] (pAm)--(gAm); \draw[ln] (pBp)--(gBp); \draw[ln] (pBm)--(gBm);
\node[ct] (pSD) at (929.5,696) {};
\node[ct] (pFE) at (929.5,714.7) {};
\node[ct] (pIP) at (929.5,761.3) {};
\node[ct] (pIG) at (929.5,780) {};
\draw[ln] (gZp)--(944.3,639.3)--(944.3,761.3)--(pIP);
\draw[ln] (gZm)--(952.3,658)--(952.3,780)--(pIG);
\capsule{975.7}{554}{988.3}{670}
\draw[ln] (982.3,670)--(982.3,714.7)--(pFE);
\draw[ln] (pFE)--(910,714.7)--(910,723.3);
\chassis{907}{723.3}
\twist{965.7}{591}{998.3}{556.7}
\twist{965.7}{629.3}{998.3}{595.7}
\twist{965.7}{666}{998.3}{632}
\bR{922}{686.7}{SD}\bR{922}{704.3}{FE}
\bR{916.7}{760.7}{IP}\bR{916.7}{780}{IG}
\foreach \n/\y/\t in {ap/802.7/a+,am/821.3/a-,bp/840.3/b+,bm/859.3/b-,zp/878/z+,zm/896.7/z-}{
 \node[ct] (q\n) at (929.5,\y) {};
 \bR{921.7}{\y}{\t}
}
\foreach \n/\y in {ap/802.7,am/821.3,bp/840.3,bm/859.3}{
 \draw[ln,-{Straight Barb[length=5pt,width=7pt]}] (q\n)--(969,\y);
}
\rbr{975}{797.7}{828.3}{812.7}
\rbr{975}{835.7}{865.7}{850.7}
\sL{985}{812.7}{A track monitor}\sL{985}{850.7}{B track monitor}
%% ------- relay outputs
\foreach \n/\y in {MA/1018.3,MB/1041,MC/1064.3,Ma/1104.3,Mb/1127.7,Mc/1170.7,Md/1194,Me/1239.3,Mf/1263}{\node[ct] (r\n) at (929.3,\y) {};}
\draw[ln] (rMA)--(895.7,1018.3)--(895.7,1024.3);
\draw[ln] (rMB)--(895.7,1041)--(895.7,1036.7)--(882.3,1029.3)--(872.7,1029.3)--(872.7,1064.3)--(rMC);
\foreach \a/\b/\c in {Ma/Mb/1104.3,Mc/Md/1170.7,Me/Mf/1239.3}{
 \draw[ln] (r\a)--(911.7,\c)--(896,\c+7.4);
 \draw[ln] (896,\c)--(872.7,\c)--(872.7,\c+23.4)--(r\b);
}
\bR{925}{1010}{MA}\bR{925}{1033.3}{MB}\bR{925}{1056}{MC}
\bR{925}{1096}{M1}\bR{925}{1118.3}{M2}\bR{925}{1162.3}{M3}\bR{925}{1185.7}{M4}\bR{925}{1230.7}{M5}\bR{925}{1254}{M6}
\rbr{941}{1008.3}{1066}{1040.7}
\rbr{941}{1090.7}{1131.7}{1111}
\rbr{941}{1156.7}{1197.3}{1176.7}
\rbr{941}{1225.7}{1266}{1245.7}
\sL{952.7}{1014.3}{Fault relay output}\rf{1084.3}{1013.3}{<11>}
\sL{952.7}{1028.7}{250 Vac, max. 1 A}\sL{952.7}{1042.7}{30 Vdc, max 1 A}\sL{952.7}{1057}{(min. 5 Vdc, 10 mA)}
\sL{952.7}{1095.7}{Multi-function relay output (During Run)}
\sL{952.7}{1111}{250 Vac, max. 1 A}\sL{952.7}{1125}{30 Vdc, max 1 A}\sL{952.7}{1139}{(min. 5 Vdc, 10 mA)}
\sL{952.7}{1162.7}{Multi-function relay output (Zero Speed)}
\sL{952.7}{1177}{250 Vac, max. 1 A}\sL{952.7}{1191}{30 Vdc, max 1 A}\sL{952.7}{1205}{(min. 5 Vdc, 10 mA)}
\sL{952.7}{1231.7}{Multi-function relay output (Speed Agree 1)}
\sL{952.7}{1245.7}{250 Vac, max. 1 A}\sL{952.7}{1259.3}{30 Vdc, max 1 A}\sL{952.7}{1273.7}{(min. 5 Vdc, 10 mA)}
%% ------- pulse output
\draw[dsh] (869.3,1288.3) rectangle (899.3,1354);
\node[ct] (tMP) at (929.3,1301.7) {};
\node[ct] (tACa) at (929.3,1324) {};
\node[circle,draw=black,line width=.85pt,fill=white,minimum size=18pt,inner sep=0] (pls2) at (885,1301.7) {};
\pulse{885}{1301.7}
\draw[ln] (pls2)--(tMP);
\draw[ln] (tACa)--(884,1324)--(884,1332);
\opencone{884}{1332}
\bC{884}{1344.3}{0 V}
\bR{922.7}{1292.7}{MP}\bR{922.7}{1314.3}{AC}
\sL{952.7}{1294.3}{Multi-function pulse train output}\sL{952.7}{1308.7}{(Output frequency)}\sL{952.7}{1323.3}{0 to 32 kHz (2.2 kΩ)}
%% ------- analog outputs
\draw[dsh] (869.3,1374) rectangle (899.3,1518.3);
\node[ct] (tFM) at (929.3,1396.7) {};
\node[ct] (tAM) at (929.3,1466) {};
\node[ct] (tACb) at (929.3,1488.3) {};
\node[ct] (tEG) at (929.3,1552) {};
\foreach \t/\y in {FM/1396.7,AM/1466}{
 \draw[ln,fill=white] (879.3,\y-5)--(879.3,\y+5)--(890,\y)--cycle;
 \draw[ln] (890,\y)--(t\t);
}
\draw[ln] (tACb)--(884,1488.3)--(884,1497);
\opencone{884}{1497}
\bC{884}{1508.3}{0 V}
\bR{922.7}{1387.7}{FM}\bR{922.7}{1456.7}{AM}\bR{922.7}{1480}{AC}\bR{921}{1544}{E (G)}
\capsule{987.7}{1381.7}{1003.3}{1503.3}
\node[mot,line width=.8pt,minimum size=23pt,font=\fontsize{12.5}{13}\selectfont] (mFM) at (1033.3,1418.7) {FM};
\node[mot,line width=.8pt,minimum size=23pt,font=\fontsize{12.5}{13}\selectfont] (mAM) at (1032,1488.3) {AM};
\draw[ln] (tFM)--(1056,1396.7)--(1056,1418.5)--(mFM);
\draw[ln] (mFM)--(973.3,1418.5)--(973.3,1488.3);
\jdot{973.3}{1488.3}
\draw[ln] (tAM)--(1054,1466)--(1054,1488.3)--(mAM);
\draw[ln] (tACb)--(mAM);
\twist{990.7}{1426.7}{999.3}{1391.7}
\twist{991.7}{1495}{1000.7}{1459.3}
\foreach \a/\b in {1017.7/1411,1015.7/1480.7}{\draw[lnt,fill=white] (\a,\b) circle (5); \draw[lnt] (\a-4,\b)--(\a+4,\b);}
\foreach \a/\b in {1049/1410.7,1046.7/1480}{\draw[lnt,fill=white] (\a,\b) circle (5); \draw[lnt] (\a-4,\b)--(\a+4,\b) (\a,\b-4)--(\a,\b+4);}
\draw[ln] (995.3,1503.3)--(995.3,1552)--(tEG);
\draw[ln] (tEG)--(906.5,1552)--(906.5,1560);
\chassis{903}{1560}
\jdot{995.3}{1503.3}
\sL{1060}{1390}{Multi-function analog output 1}\sL{1060}{1405.7}{(Output frequency)}
\sL{1056.7}{1423.3}{-10 to +10 Vdc (2 mA)}\sL{1056.7}{1438.3}{or 4 to 20 mA}\rf{1166.7}{1440}{<16>}
\sL{1060}{1468.7}{Multi-function analog output 2}\sL{1060}{1483.7}{(Output current)}
\sL{1056.7}{1501.7}{-10 to +10 Vdc (2 mA)}\sL{1056.7}{1517.3}{or 4 to 20 mA}\rf{1165.7}{1517.3}{<16>}
\end{tikzpicture}
\end{document}
